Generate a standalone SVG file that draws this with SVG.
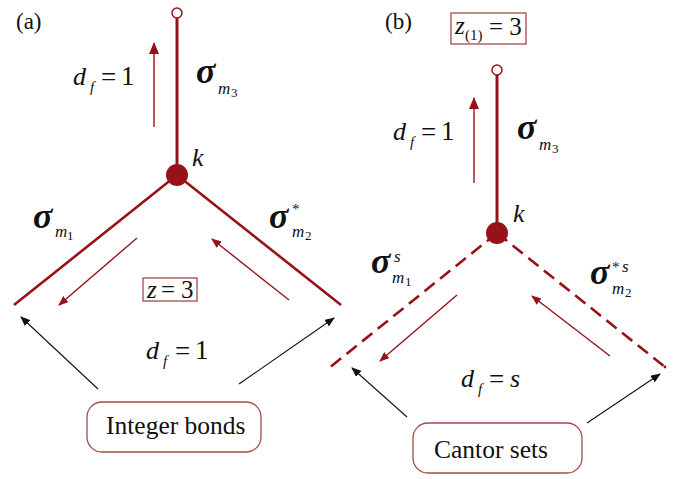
<svg xmlns="http://www.w3.org/2000/svg" width="677" height="479" viewBox="0 0 677 479" font-family="'Liberation Serif', 'DejaVu Serif', serif">
<style>
text{font-family:'Liberation Serif','DejaVu Serif',serif;fill:#111}
.it{font-style:italic}
.sig{font-style:italic;font-weight:bold;font-size:36px}
.br{stroke:#961218;fill:none}
.main{stroke-width:3}
.dash{stroke-width:2.6;stroke-dasharray:13 7}
.ra{stroke:#961218;stroke-width:1.4;fill:none}
.ka{stroke:#111;stroke-width:1.1;fill:none}
.box{fill:none;stroke:#a64848;stroke-width:1.3}
.eq{font-size:27px}
</style>
<defs>
<marker id="rh" viewBox="0 0 10 8" refX="9" refY="4" markerWidth="10" markerHeight="8" markerUnits="userSpaceOnUse" orient="auto"><path d="M0,0 L10,4 L0,8 Z" fill="#961218"/></marker>
<marker id="rh2" viewBox="0 0 12 10" refX="11" refY="5" markerWidth="12" markerHeight="10" markerUnits="userSpaceOnUse" orient="auto"><path d="M0,0 L12,5 L0,10 Z" fill="#961218"/></marker>
<marker id="kh" viewBox="0 0 10 8" refX="9" refY="4" markerWidth="10" markerHeight="8" markerUnits="userSpaceOnUse" orient="auto"><path d="M0,0 L10,4 L0,8 Z" fill="#111"/></marker>
</defs>

<text x="16" y="29" font-size="23">(a)</text>
<g id="connectors">
<line class="br main" x1="177" y1="18" x2="177" y2="175"/>
<line class="br" stroke-width="2.6" x1="177" y1="175" x2="14" y2="305"/>
<line class="br" stroke-width="2.6" x1="177" y1="175" x2="341" y2="305"/>
<line class="ra" stroke-width="2.4" x1="154" y1="127" x2="154" y2="43" marker-end="url(#rh2)"/>
<line class="ra" x1="137" y1="238" x2="59" y2="305" marker-end="url(#rh)"/>
<line class="ra" x1="289" y1="300" x2="212" y2="239" marker-end="url(#rh)"/>
<line class="ka" x1="98" y1="389" x2="21" y2="317" marker-end="url(#kh)"/>
<line class="ka" x1="239" y1="384" x2="334" y2="318" marker-end="url(#kh)"/>
<line class="br main" x1="497" y1="74" x2="497" y2="233"/>
<line class="br dash" x1="497" y1="233" x2="329" y2="368"/>
<line class="br dash" x1="497" y1="233" x2="665" y2="367"/>
<line class="ra" stroke-width="2.4" x1="474" y1="183" x2="474" y2="98" marker-end="url(#rh2)"/>
<line class="ra" x1="457" y1="295" x2="380" y2="361" marker-end="url(#rh)"/>
<line class="ra" x1="610" y1="356" x2="532" y2="296" marker-end="url(#rh)"/>
<line class="ka" x1="407" y1="417" x2="352" y2="368" marker-end="url(#kh)"/>
<line class="ka" x1="587" y1="423" x2="660" y2="374" marker-end="url(#kh)"/>
</g>

<g id="top-a"><circle cx="177" cy="13" r="5" fill="#fff" stroke="#961218" stroke-width="1.5"/></g>
<g id="node-k-a"><circle cx="177" cy="175" r="11" fill="#961218"/>
<text x="192" y="166" font-size="26" class="it">k</text></g>
<g id="label-df-a-top">
<text x="73" y="85" font-size="26" class="it">d</text>
<text x="90" y="92" font-size="15" class="it">f</text>
<text x="101" y="86" class="eq">=</text>
<text x="121" y="85" class="eq">1</text>
</g>
<g id="label-sig3-a">
<text x="196" y="83" class="sig">σ</text>
<text x="218" y="94" font-size="17" class="it">m</text>
<text x="231" y="97" font-size="13">3</text>
</g>
<g id="label-sig1-a">
<text x="33" y="228" class="sig">σ</text>
<text x="55" y="237" font-size="17" class="it">m</text>
<text x="67" y="240" font-size="13">1</text>
</g>
<g id="label-sig2-a">
<text x="269" y="228" class="sig">σ</text>
<text x="292" y="214" font-size="15">*</text>
<text x="292" y="237" font-size="17" class="it">m</text>
<text x="305" y="240" font-size="13">2</text>
</g>
<g id="label-z-a">
<rect class="box" x="143" y="278" width="54" height="23"/>
<text x="147" y="298" font-size="25" class="it">z</text>
<text x="161" y="298" font-size="25">=</text>
<text x="181" y="298" font-size="25">3</text>
</g>
<g id="label-df-a">
<text x="146" y="359" font-size="26" class="it">d</text>
<text x="163" y="366" font-size="15" class="it">f</text>
<text x="175" y="360" class="eq">=</text>
<text x="195" y="359" class="eq">1</text>
</g>
<g id="integer-bonds">
<rect class="box" x="87" y="402" width="174" height="50" rx="15" ry="15"/>
<text x="106" y="434" font-size="25.5">Integer bonds</text>
</g>

<text x="385" y="29" font-size="23">(b)</text>
<g id="label-z1-b">
<rect class="box" x="451" y="13" width="75" height="31"/>
<text x="455" y="34" font-size="25" class="it">z</text>
<text x="465" y="40" font-size="15">(1)</text>
<text x="489" y="35" font-size="25">= 3</text>
</g>
<g id="top-b"><circle cx="497" cy="70" r="5" fill="#fff" stroke="#961218" stroke-width="1.5"/></g>
<g id="node-k-b"><circle cx="497" cy="233" r="11" fill="#961218"/>
<text x="513" y="222" font-size="26" class="it">k</text></g>
<g id="label-df-b-top">
<text x="393" y="140" font-size="26" class="it">d</text>
<text x="410" y="147" font-size="15" class="it">f</text>
<text x="421" y="141" class="eq">=</text>
<text x="441" y="140" class="eq">1</text>
</g>
<g id="label-sig3-b">
<text x="517" y="139" class="sig">σ</text>
<text x="539" y="150" font-size="17" class="it">m</text>
<text x="552" y="153" font-size="13">3</text>
</g>
<g id="label-sig1-b">
<text x="371" y="273" class="sig">σ</text>
<text x="394" y="262" font-size="17" class="it">s</text>
<text x="392" y="283" font-size="17" class="it">m</text>
<text x="405" y="286" font-size="13">1</text>
</g>
<g id="label-sig2-b">
<text x="590" y="284" class="sig">σ</text>
<text x="612" y="272" font-size="15">*</text>
<text x="622" y="272" font-size="17" class="it">s</text>
<text x="612" y="294" font-size="17" class="it">m</text>
<text x="625" y="297" font-size="13">2</text>
</g>
<circle cx="665" cy="367" r="1.4" fill="#961218"/>
<g id="label-df-b">
<text x="461" y="387" font-size="26" class="it">d</text>
<text x="478" y="394" font-size="15" class="it">f</text>
<text x="489" y="388" class="eq">=</text>
<text x="510" y="387" font-size="26" class="it">s</text>
</g>
<g id="cantor-sets">
<rect class="box" x="413" y="423" width="169" height="50" rx="15" ry="15"/>
<text x="434" y="458" font-size="25.5">Cantor sets</text>
</g>
</svg>
